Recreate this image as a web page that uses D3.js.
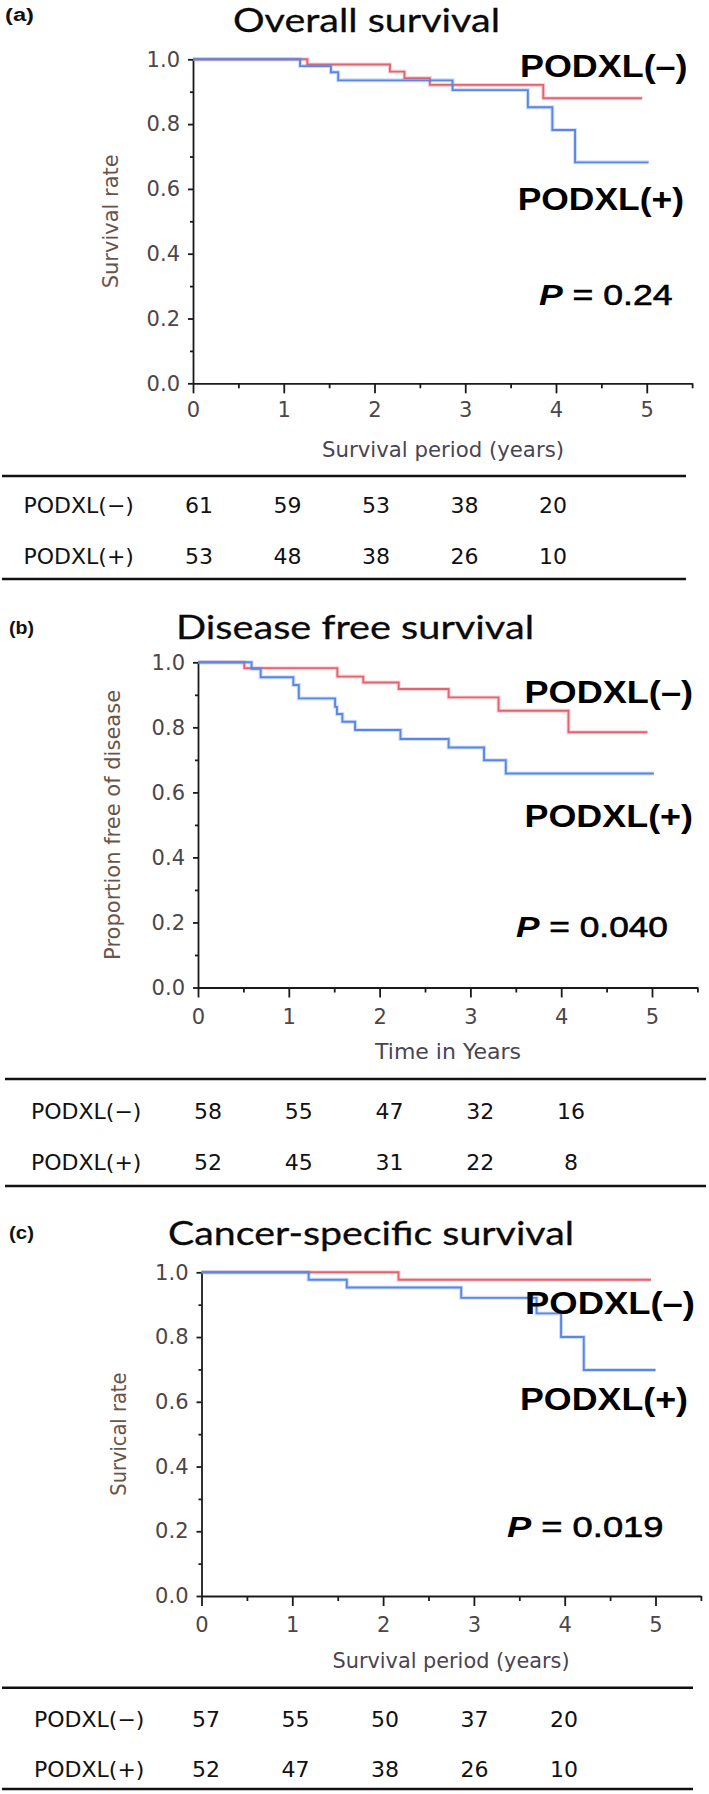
<!DOCTYPE html>
<html><head><meta charset="utf-8">
<script src="https://cdn.jsdelivr.net/npm/d3@7"></script>
<style>
html,body{margin:0;padding:0;background:#fff;}
svg{display:block;}
</style></head>
<body>
<svg id="chart" width="709" height="1794"></svg>
<script>
// ================= DATA =================
const groupNames = ["PODXL(\u2212)", "PODXL(+)"];
const curveLabels = ["PODXL(\u2013)", "PODXL(+)"];
const xTickValues = [0, 1, 2, 3, 4, 5];
const xMinorTicks = [0.5, 1.5, 2.5, 3.5, 4.5, 5.5];
const yTickValues = [0, 0.2, 0.4, 0.6, 0.8, 1.0];
const yMinorTicks = [0.1, 0.3, 0.5, 0.7, 0.9];
const tableYears = [0, 1, 2, 3, 4];

// (a) Overall survival
const osNegTimes = [0, 1.26, 2.17, 2.33, 2.61, 3.86, 4.95];
const osNegSurv  = [1.0, 0.984, 0.962, 0.942, 0.921, 0.880, 0.880];
const osPosTimes = [0, 1.18, 1.52, 1.60, 2.86, 3.69, 3.96, 4.21, 5.02];
const osPosSurv  = [1.0, 0.979, 0.960, 0.935, 0.905, 0.852, 0.782, 0.682, 0.682];
const osNegRisk = [61, 59, 53, 38, 20];
const osPosRisk = [53, 48, 38, 26, 10];

// (b) Disease free survival
const dfsNegTimes = [0, 0.51, 1.535, 1.82, 2.21, 2.76, 3.31, 4.08, 4.95];
const dfsNegSurv  = [1.0, 0.982, 0.956, 0.938, 0.918, 0.892, 0.851, 0.785, 0.785];
const dfsPosTimes = [0, 0.59, 0.69, 1.05, 1.11, 1.51, 1.53, 1.59, 1.73, 2.23, 2.76, 3.15, 3.39, 5.02];
const dfsPosSurv  = [1.0, 0.980, 0.954, 0.930, 0.889, 0.863, 0.841, 0.817, 0.792, 0.764, 0.738, 0.699, 0.658, 0.658];
const dfsNegRisk = [58, 55, 47, 32, 16];
const dfsPosRisk = [52, 45, 31, 22, 8];

// (c) Cancer-specific survival
const cssNegTimes = [0, 2.17, 4.95];
const cssNegSurv  = [1.0, 0.977, 0.977];
const cssPosTimes = [0, 1.18, 1.60, 2.86, 3.69, 3.96, 4.21, 5.0];
const cssPosSurv  = [1.0, 0.977, 0.953, 0.921, 0.873, 0.800, 0.698, 0.698];
const cssNegRisk = [57, 55, 50, 37, 20];
const cssPosRisk = [52, 47, 38, 26, 10];

// ================= DRAW =================
const RED = "#e3646e", BLUE = "#5a87e6";
const AXIS_FONT = "'DejaVu Sans', Verdana, sans-serif";
const BOLD_FONT = "'Liberation Sans', Arial, sans-serif";
const TITLE_FONT = "Lato, 'Open Sans', sans-serif";

const svg = d3.select("#chart");
svg.append("rect").attr("width", 709).attr("height", 1794).attr("fill", "#fff");

function fit(sel, w) { sel.attr("textLength", w).attr("lengthAdjust", "spacingAndGlyphs"); }

const panels = [
  { label: "(a)", title: "Overall survival", yTitle: "Survival rate", xTitle: "Survival period (years)", pVal: "0.24",
    neg: [osNegTimes, osNegSurv], pos: [osPosTimes, osPosSurv], risk: [osNegRisk, osPosRisk],
    ox: 193, ppy: 90.75, yTop: 59.3, yBot: 383.3, xTickPad: 9,
    labelPos: [5, 21, 29], titlePos: [233, 500, 31.5],
    xTitlePos: [443, 457, 242], yTitlePos: [111, 134],
    negLab: [520, 687.5, 77], posLab: [517.7, 684, 210], pLab: [539, 672.6, 305],
    rule: [2, 686, 476, 579], rows: [513, 564], rowLabX: 23.5, cols: [199, 553] },
  { label: "(b)", title: "Disease free survival", yTitle: "Proportion free of disease", xTitle: "Time in Years", pVal: "0.040",
    neg: [dfsNegTimes, dfsNegSurv], pos: [dfsPosTimes, dfsPosSurv], risk: [dfsNegRisk, dfsPosRisk],
    ox: 198, ppy: 90.8, yTop: 662.3, yBot: 987.5, xTickPad: 12,
    labelPos: [9, 634, 25], titlePos: [176, 534, 639],
    xTitlePos: [448, 1059, 146], yTitlePos: [113, 270],
    negLab: [524.5, 693, 703], posLab: [524.5, 693, 827], pLab: [516, 668, 937],
    rule: [5, 706, 1079, 1186], rows: [1119, 1170], rowLabX: 31, cols: [208, 571] },
  { label: "(c)", title: "Cancer-specific survival", yTitle: "Survical rate", xTitle: "Survival period (years)", pVal: "0.019",
    neg: [cssNegTimes, cssNegSurv], pos: [cssPosTimes, cssPosSurv], risk: [cssNegRisk, cssPosRisk],
    ox: 201.5, ppy: 90.8, yTop: 1272.3, yBot: 1596, xTickPad: 11,
    labelPos: [9, 1239, 25], titlePos: [168, 574, 1245],
    xTitlePos: [451, 1668, 237], yTitlePos: [118.7, 123],
    negLab: [525, 695, 1314], posLab: [520, 688, 1410], pLab: [507, 663.5, 1537],
    rule: [2, 693, 1687.7, 1789], rows: [1727, 1777], rowLabX: 34, cols: [206, 564] }
];

panels.forEach(p => {
  const x = d3.scaleLinear().domain([0, 5.5]).range([p.ox, p.ox + 5.5 * p.ppy]);
  const y = d3.scaleLinear().domain([0, 1]).range([p.yBot, p.yTop]);
  const g = svg.append("g");

  // panel label
  g.append("text").attr("x", p.labelPos[0]).attr("y", p.labelPos[1])
    .attr("font-family", BOLD_FONT).attr("font-weight", "bold").attr("font-size", 18)
    .attr("fill", "#111").text(p.label).call(fit, p.labelPos[2]);

  // title
  g.append("text").attr("x", p.titlePos[0]).attr("y", p.titlePos[2])
    .attr("font-family", TITLE_FONT).attr("font-size", 33.5).attr("fill", "#0a0a0a")
    .attr("stroke", "#0a0a0a").attr("stroke-width", 0.3)
    .text(p.title).call(fit, p.titlePos[1] - p.titlePos[0]);

  // axes
  const yAxis = d3.axisLeft(y).tickValues(yTickValues).tickFormat(d3.format(".1f"))
    .tickSize(5).tickSizeOuter(0).tickPadding(8);
  const yMinor = d3.axisLeft(y).tickValues(yMinorTicks).tickFormat("").tickSize(3).tickSizeOuter(0);
  const xAxis = d3.axisBottom(x).tickValues(xTickValues).tickFormat(d3.format("d"))
    .tickSize(10).tickSizeOuter(0).tickPadding(p.xTickPad);
  const xMinor = d3.axisBottom(x).tickValues(xMinorTicks).tickFormat("").tickSize(5).tickSizeOuter(0);

  const ya = g.append("g").attr("transform", `translate(${p.ox},0)`).call(yAxis);
  const ym = g.append("g").attr("transform", `translate(${p.ox},0)`).call(yMinor);
  const xa = g.append("g").attr("transform", `translate(0,${p.yBot})`).call(xAxis);
  const xm = g.append("g").attr("transform", `translate(0,${p.yBot})`).call(xMinor);
  ym.select(".domain").remove();
  xm.select(".domain").remove();
  [ya, ym, xa, xm].forEach(a => {
    a.selectAll("path, line").attr("stroke", "#1a1a1a").attr("stroke-width", 1.8);
    a.selectAll("text").attr("font-family", AXIS_FONT).attr("font-size", 21).attr("fill", "#4b4648");
  });

  // axis titles
  g.append("text").attr("x", p.xTitlePos[0]).attr("y", p.xTitlePos[1])
    .attr("text-anchor", "middle").attr("font-family", AXIS_FONT).attr("font-size", 21)
    .attr("fill", "#4a4452").text(p.xTitle).call(fit, p.xTitlePos[2]);
  const yc = (p.yTop + p.yBot) / 2;
  g.append("text").attr("transform", `translate(${p.yTitlePos[0] + 7},${yc}) rotate(-90)`)
    .attr("text-anchor", "middle").attr("font-family", AXIS_FONT).attr("font-size", 21)
    .attr("fill", "#6a5448").text(p.yTitle).call(fit, p.yTitlePos[1]);

  // curves
  const line = d3.line().x(d => x(d[0])).y(d => y(d[1])).curve(d3.curveStepAfter);
  [[p.neg, RED], [p.pos, BLUE]].forEach(([data, col]) => {
    const pts = data[0].map((t, i) => [t, data[1][i]]);
    g.append("path").attr("d", line(pts)).attr("fill", "none").attr("stroke", col)
      .attr("stroke-width", 4).attr("stroke-opacity", 0.28);
    g.append("path").attr("d", line(pts)).attr("fill", "none").attr("stroke", col)
      .attr("stroke-width", 1.9);
  });

  // curve labels
  [[p.negLab, curveLabels[0]], [p.posLab, curveLabels[1]]].forEach(([pos, txt]) => {
    g.append("text").attr("x", pos[0]).attr("y", pos[2])
      .attr("font-family", BOLD_FONT).attr("font-weight", "bold").attr("font-size", 30.5)
      .attr("fill", "#000").text(txt).call(fit, pos[1] - pos[0]);
  });

  // p value
  const pt = g.append("text").attr("x", p.pLab[0]).attr("y", p.pLab[2])
    .attr("font-family", BOLD_FONT).attr("font-size", 29).attr("fill", "#000");
  pt.append("tspan").attr("font-weight", "bold").attr("font-style", "italic").text("P");
  pt.append("tspan").attr("stroke", "#000").attr("stroke-width", 0.6).text(" = " + p.pVal);
  pt.call(fit, p.pLab[1] - p.pLab[0]);

  // risk table
  g.append("line").attr("x1", p.rule[0]).attr("x2", p.rule[1]).attr("y1", p.rule[2]).attr("y2", p.rule[2])
    .attr("stroke", "#111").attr("stroke-width", 2.6);
  g.append("line").attr("x1", p.rule[0]).attr("x2", p.rule[1]).attr("y1", p.rule[3]).attr("y2", p.rule[3])
    .attr("stroke", "#111").attr("stroke-width", 2.6);
  const col = d3.scaleLinear().domain([0, 4]).range(p.cols);
  p.risk.forEach((vals, r) => {
    g.append("text").attr("x", p.rowLabX).attr("y", p.rows[r])
      .attr("font-family", AXIS_FONT).attr("font-size", 22).attr("fill", "#111").text(groupNames[r]);
    g.selectAll(null).data(vals).enter().append("text")
      .attr("x", (d, i) => col(tableYears[i])).attr("y", p.rows[r])
      .attr("text-anchor", "middle").attr("font-family", AXIS_FONT).attr("font-size", 22)
      .attr("fill", "#111").text(d => d);
  });
});
</script>
</body></html>
